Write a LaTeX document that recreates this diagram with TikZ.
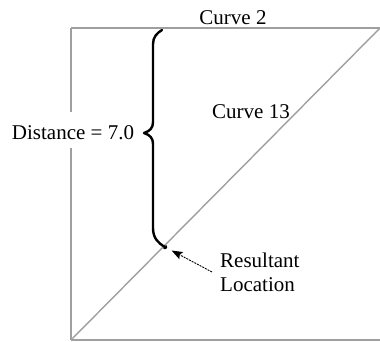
\documentclass[tikz,border=0pt]{standalone}
\usepackage{fontspec}
\setmainfont{Liberation Serif}
\usetikzlibrary{arrows.meta}

\begin{document}
\begin{tikzpicture}[
  x=1pt,
  y=-1pt,
  % Frame and curve lines
  curve/.style={
    draw=gray!75,
    line width=1.4pt
  },
  % Curly bracket
  bracket/.style={
    draw=black,
    line width=2.4pt,
    line cap=round,
    line join=round
  },
  % Text labels
  lbl/.style={
    font=\fontsize{21}{24}\selectfont,
    inner sep=0pt
  },
  % Pointer arrow
  pointer/.style={
    -{Stealth[length=11pt, width=8pt, inset=2pt]},
    line width=0.9pt,
    dash pattern=on 2pt off 1pt,
    shorten >=5pt
  }
]
\useasboundingbox (0,0) rectangle (380,341);

% === CORNERS ===
\coordinate (tl) at (71,28);
\coordinate (tr) at (380,28);
\coordinate (bl) at (71,340);
\coordinate (br) at (380,340);

% === LABELS ===
\node[lbl, anchor=base] (curvetwo) at (233,24) {Curve 2};
\node[lbl, anchor=base] (curvethirteen) at (251,118) {Curve 13};
\node[lbl, anchor=base, text height=27pt, text depth=9pt] (dist) at (73,139) {Distance = 7.0};
\node[lbl, anchor=west, align=left, inner xsep=8pt] (note) at (212,272) {Resultant\\Location};

% === RESULTANT POINT ===
\node[circle, fill=black, inner sep=0pt, minimum size=4.5pt] (loc) at (165,247) {};

% === FRAME AND CURVES ===
\draw[curve] (tl) -- (tr);
\draw[curve] (bl) -- (br);
\draw[curve] (tl) -- (dist.north -| tl);
\draw[curve] (dist.south -| tl) -- (bl);
\draw[curve] (bl) -- (tr);

% === BRACKET ===
\draw[bracket] (162,30) .. controls (157,33) and (153,37) .. (153,44)
  -- (153,122) .. controls (153,128) and (150,131) .. (144,133)
  .. controls (150,135) and (153,138) .. (153,144)
  -- (153,228) .. controls (153,238) and (158,243) .. (loc.center);

% === ARROW ===
\draw[pointer] (note.west) -- (loc);

\end{tikzpicture}
\end{document}
